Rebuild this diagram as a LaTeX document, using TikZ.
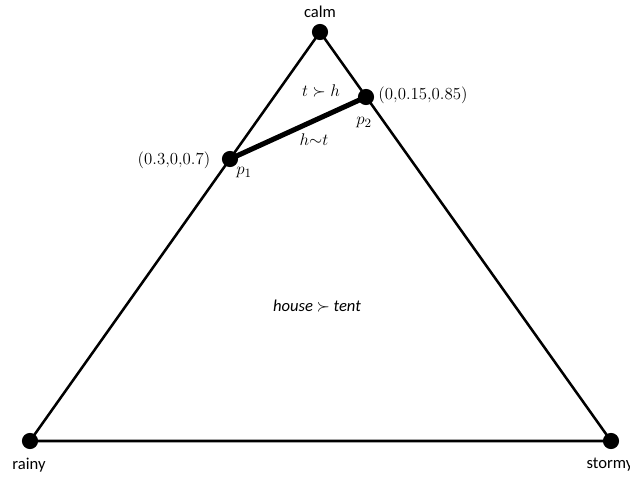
\documentclass[tikz,border=0pt]{standalone}
\usepackage{amsmath}
\usepackage{amssymb}
\usepackage{fontspec}
\setmainfont{Carlito}

\tikzset{
  dot/.style={circle, fill=black, inner sep=0pt, minimum size=11.5pt},
  word/.style={font=\fontsize{11.8}{14}\selectfont},
  coord/.style={font=\fontsize{12.5}{15}\selectfont}
}

\begin{document}
\begin{tikzpicture}[x=0.025cm, y=0.025cm]
\useasboundingbox (0,0) rectangle (630,477);

\node[dot] (calm) at (320,445) {};
\node[dot] (rainy) at (30,36) {};
\node[dot] (stormy) at (611,36) {};
\node[dot] (p1) at (230,318) {};
\node[dot] (p2) at (366,380) {};

\draw[line width=1.8pt] (calm.center) -- (rainy.center) -- (stormy.center) -- cycle;
\draw[line width=3.6pt] (p1.center) -- (p2.center);

\node[word] (calmlabel) at (320,465) {calm};
\node[word] (rainylabel) at (29,12) {rainy};
\node[word] (stormylabel) at (610,12) {stormy};

\node[coord] (p1coord) at (174,317) {$(0.3{,}0{,}0.7)$};
\node[coord] (p2coord) at (423,382) {$(0{,}0.15{,}0.85)$};
\node[coord] (p1label) at (244,304) {$p_1$};
\node[coord] (p2label) at (364,354) {$p_2$};

\node[coord] (thlabel) at (321,386) {$t \succ h$};
\node[coord] (indiff) at (314,337) {$h{\sim}t$};
\node[word] (housetent) at (317,171) {\textit{house} $\succ$ \textit{tent}};

\end{tikzpicture}
\end{document}
